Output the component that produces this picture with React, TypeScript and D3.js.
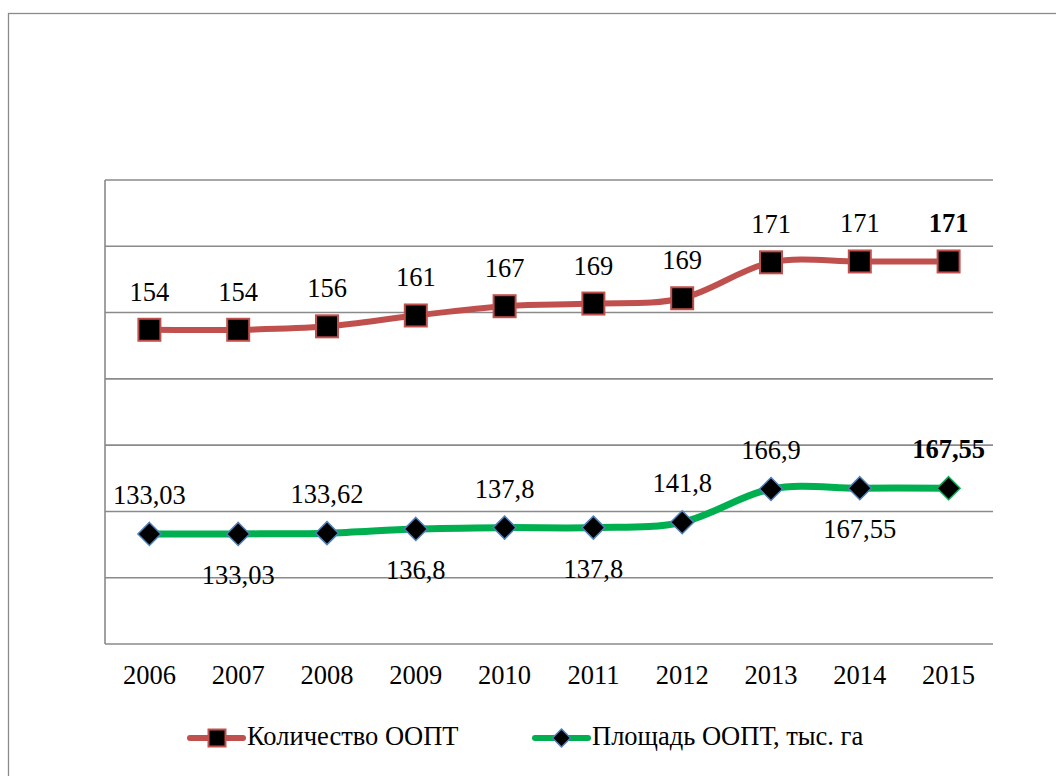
import { useEffect, useRef } from 'react';
import * as d3 from 'd3';

const years = ['2006', '2007', '2008', '2009', '2010', '2011', '2012', '2013', '2014', '2015'];
const countValues = [154, 154, 156, 161, 167, 169, 169, 171, 171, 171];
const areaValues = [133.03, 133.03, 133.62, 136.8, 137.8, 137.8, 141.8, 166.9, 167.55, 167.55];
// where the area label sits relative to its point
const areaLabelSide = ['up', 'down', 'up', 'down', 'up', 'down', 'up', 'up', 'down', 'up'];
const gridTicks = [50, 100, 150, 200, 250, 300, 350, 400];
const seriesNames = ['Количество ООПТ', 'Площадь ООПТ, тыс. га'];

const RED = '#C0504D';
const GREEN = '#00B050';
const BLUE = '#4F81BD';
const GRID = '#8a8a8a';
const FONT = "'Liberation Serif', 'Times New Roman', serif";
const FS = 26.5;

const fmt = (v: number) => String(v).replace('.', ',');

export default function App() {
    const svgRef = useRef<SVGSVGElement>(null);

    useEffect(() => {
        if (!svgRef.current) return;
        const svg = d3.select(svgRef.current);
        svg.selectAll('*').remove();

        const left = 105, right = 993, top = 180, bottom = 644;

        const x = d3.scaleBand<string>().domain(years).range([left, right]);
        const cx = (y: string) => (x(y) || 0) + x.bandwidth() / 2;
        const y = d3.scaleLinear().domain([50, 400]).range([bottom, top]);

        // outer frame (runs off the right/bottom edge)
        svg.append('rect')
            .attr('x', 8.5).attr('y', 13.5)
            .attr('width', 1100).attr('height', 900)
            .attr('fill', 'none').attr('stroke', GRID).attr('stroke-width', 1.3);

        // gridlines
        svg.append('g')
            .selectAll('line')
            .data(gridTicks)
            .join('line')
            .attr('x1', left).attr('x2', right)
            .attr('y1', d => y(d)).attr('y2', d => y(d))
            .attr('stroke', GRID).attr('stroke-width', 1.6);

        // vertical axis line
        svg.append('line')
            .attr('x1', left).attr('x2', left)
            .attr('y1', top).attr('y2', bottom)
            .attr('stroke', GRID).attr('stroke-width', 1.6);

        // x labels
        svg.append('g')
            .selectAll('text')
            .data(years)
            .join('text')
            .attr('x', d => cx(d))
            .attr('y', 684)
            .attr('text-anchor', 'middle')
            .style('font-family', FONT)
            .attr('font-size', FS)
            .text(d => d);

        // stacked: area is the base, count goes on top
        const areaPts = years.map((yr, i) => [cx(yr), y(areaValues[i])] as [number, number]);
        const countPts = years.map((yr, i) => [cx(yr), y(areaValues[i] + countValues[i])] as [number, number]);

        const line = d3.line().curve(d3.curveCatmullRom.alpha(0));

        svg.append('path')
            .attr('d', line(areaPts))
            .attr('fill', 'none').attr('stroke', GREEN)
            .attr('stroke-width', 7).attr('stroke-linecap', 'round');

        svg.append('path')
            .attr('d', line(countPts))
            .attr('fill', 'none').attr('stroke', RED)
            .attr('stroke-width', 6).attr('stroke-linecap', 'round');

        // diamonds
        const dm = 11.5;
        svg.append('g')
            .selectAll('path')
            .data(areaPts)
            .join('path')
            .attr('d', ([px, py]) => `M${px},${py - dm}L${px + dm},${py}L${px},${py + dm}L${px - dm},${py}Z`)
            .attr('fill', '#000')
            .attr('stroke', (_, i) => (i === years.length - 1 ? GREEN : BLUE))
            .attr('stroke-width', 1.5);

        // squares
        const sq = 22;
        svg.append('g')
            .selectAll('rect')
            .data(countPts)
            .join('rect')
            .attr('x', d => d[0] - sq / 2).attr('y', d => d[1] - sq / 2)
            .attr('width', sq).attr('height', sq)
            .attr('fill', '#000')
            .attr('stroke', RED).attr('stroke-width', 2);

        // count labels
        svg.append('g')
            .selectAll('text')
            .data(countPts)
            .join('text')
            .attr('x', d => d[0])
            .attr('y', d => d[1] - 29)
            .attr('text-anchor', 'middle')
            .style('font-family', FONT)
            .attr('font-size', FS)
            .attr('font-weight', (_, i) => (i === years.length - 1 ? 'bold' : 'normal'))
            .text((_, i) => fmt(countValues[i]));

        // area labels
        svg.append('g')
            .selectAll('text')
            .data(areaPts)
            .join('text')
            .attr('x', d => d[0])
            .attr('y', (d, i) => (areaLabelSide[i] === 'up' ? d[1] - 30 : d[1] + 50))
            .attr('text-anchor', 'middle')
            .style('font-family', FONT)
            .attr('font-size', FS)
            .attr('font-weight', (_, i) => (i === years.length - 1 ? 'bold' : 'normal'))
            .text((_, i) => fmt(areaValues[i]));

        // legend
        const lg = svg.append('g');
        const ly = 738;
        lg.append('line')
            .attr('x1', 190).attr('x2', 243).attr('y1', ly).attr('y2', ly)
            .attr('stroke', RED).attr('stroke-width', 6).attr('stroke-linecap', 'round');
        lg.append('rect')
            .attr('x', 217 - 8.5).attr('y', ly - 8.5).attr('width', 17).attr('height', 17)
            .attr('fill', '#000').attr('stroke', RED).attr('stroke-width', 2);
        lg.append('text')
            .attr('x', 247).attr('y', 745)
            .style('font-family', FONT).attr('font-size', FS)
            .text(seriesNames[0]);

        lg.append('line')
            .attr('x1', 535).attr('x2', 588).attr('y1', ly).attr('y2', ly)
            .attr('stroke', GREEN).attr('stroke-width', 6).attr('stroke-linecap', 'round');
        const lx = 561.5, ld = 9;
        lg.append('path')
            .attr('d', `M${lx},${ly - ld}L${lx + ld},${ly}L${lx},${ly + ld}L${lx - ld},${ly}Z`)
            .attr('fill', '#000').attr('stroke', BLUE).attr('stroke-width', 1.5);
        lg.append('text')
            .attr('x', 592).attr('y', 745)
            .style('font-family', FONT).attr('font-size', FS)
            .text(seriesNames[1]);
    }, []);

    return (
        <svg
            ref={svgRef}
            width={1056}
            height={776}
            style={{ position: 'absolute', left: 0, top: 0, background: '#fff', display: 'block' }}
        />
    );
}
